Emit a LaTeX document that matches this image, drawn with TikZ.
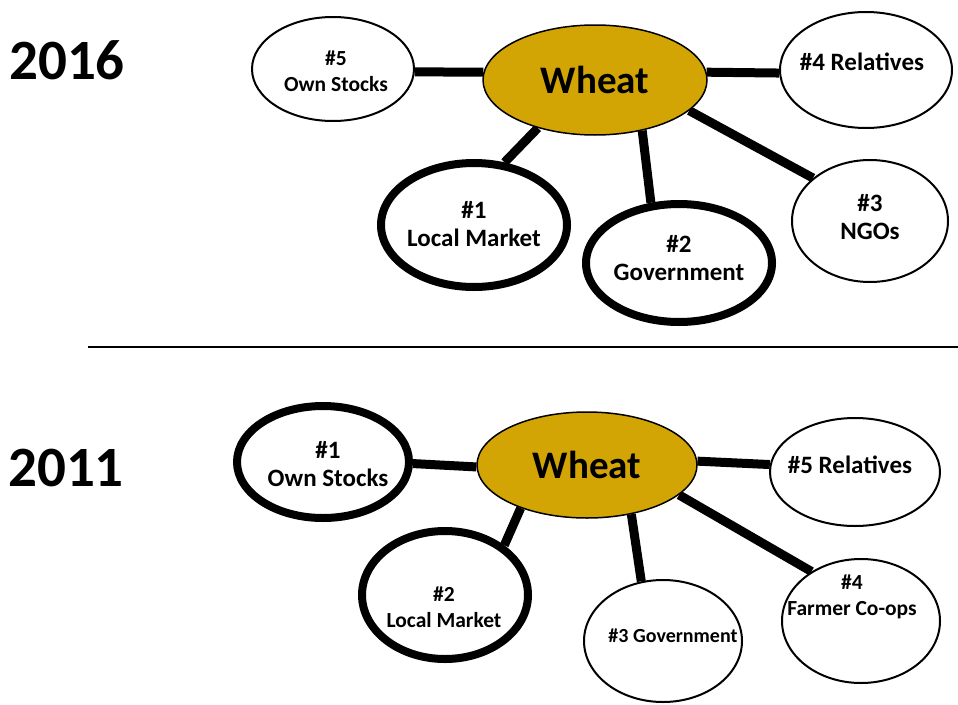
\documentclass[tikz,border=0pt]{standalone}
\usepackage{fontspec}
\setmainfont{Carlito}
\usetikzlibrary{shapes.geometric,backgrounds}
\definecolor{wheatgold}{HTML}{D3A504}
\tikzset{
  oval/.style={ellipse, draw, fill=white, inner sep=0pt, line width=2pt},
  thickoval/.style={oval, line width=8pt},
  hub/.style={ellipse, draw, fill=wheatgold, inner sep=0pt, line width=1.5pt, font=\fontsize{39}{39}\selectfont\bfseries},
  lbl/.style={align=center, inner sep=0pt, font=\fontsize{25}{28}\selectfont\bfseries},
  mlbl/.style={align=center, inner sep=0pt, font=\fontsize{21.5}{26}\selectfont\bfseries},
  slbl/.style={align=center, inner sep=0pt, font=\fontsize{20}{26}\selectfont\bfseries},
  year/.style={inner sep=0pt, font=\fontsize{57}{57}\selectfont\bfseries},
  link/.style={line width=9pt},
}
\begin{document}
\begin{tikzpicture}[x=1pt,y=-1pt]
\useasboundingbox (0,0) rectangle (958,704);
% ---------- 2016 ----------
\node[year] (y16) at (67,60) {2016};
\node[hub, minimum width=224pt, minimum height=110pt] (w16) at (595,80) {Wheat};
\node[oval, minimum width=162pt, minimum height=104pt] (os16) at (333,69) {};
\node[oval, minimum width=172pt, minimum height=116pt] (re16) at (866,70) {};
\node[thickoval, minimum width=186pt, minimum height=124pt] (lm16) at (474,225) {};
\node[thickoval, minimum width=186pt, minimum height=118pt] (go16) at (679,263) {};
\node[oval, minimum width=156pt, minimum height=122pt] (ng16) at (870,221) {};
\node[mlbl] (tos16) at (336,71) {\#5\\Own Stocks};
\node[lbl] (tre16) at (862,62) {\#4 Relatives};
\node[lbl] (tlm16) at (474,224) {\#1\\Local Market};
\node[lbl] (tgo16) at (679,258) {\#2\\Government};
\node[lbl] (tng16) at (870,217) {\#3\\NGOs};
\begin{scope}[on background layer]
\draw[link] (w16.176) -- (os16.-2);
\draw[link] (w16.4) -- (re16.182);
\draw[link] (w16.220) -- (lm16.64);
\draw[link] (w16.-47) -- (go16.115);
\draw[link] (w16.-18) -- (ng16.143);
\end{scope}
% ---------- divider ----------
\coordinate (hl) at (88,347);
\coordinate (hr) at (958,347);
\draw[line width=2pt] (hl) -- (hr);
% ---------- 2011 ----------
\node[year] (y11) at (66,468) {2011};
\node[hub, minimum width=220pt, minimum height=106pt] (w11) at (587,465) {Wheat};
\node[thickoval, minimum width=172pt, minimum height=112pt] (os11) at (323,462) {};
\node[oval, minimum width=170pt, minimum height=108pt] (re11) at (855,472) {};
\node[thickoval, minimum width=166pt, minimum height=128pt] (lm11) at (445,595) {};
\node[oval, minimum width=158pt, minimum height=122pt] (go11) at (663,641) {};
\node[oval, minimum width=158pt, minimum height=124pt] (co11) at (861,621) {};
\node[lbl] (tos11) at (328,464) {\#1\\Own Stocks};
\node[lbl] (tre11) at (850,465) {\#5 Relatives};
\node[mlbl] (tlm11) at (444,607) {\#2\\Local Market};
\node[slbl] (tgo11) at (673,636) {\#3 Government};
\node[mlbl] (tco11) at (852,597) {\#4\\Farmer Co-ops};
\begin{scope}[on background layer]
\draw[link] (w11.181) -- (os11.-1);
\draw[link] (w11.2) -- (re11.175);
\draw[link] (w11.213) -- (lm11.40);
\draw[link] (w11.-48) -- (go11.110);
\draw[link] (w11.-18) -- (co11.135);
\end{scope}
\end{tikzpicture}
\end{document}
